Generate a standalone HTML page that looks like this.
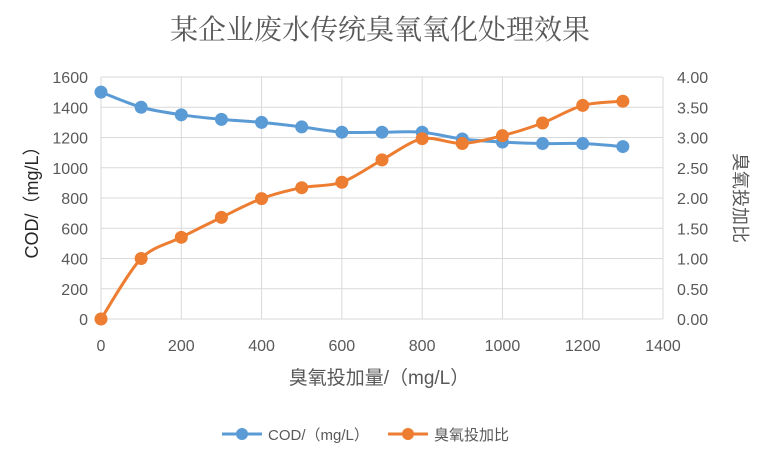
<!DOCTYPE html>
<html><head><meta charset="utf-8"><style>
body{margin:0;background:#fff;width:759px;height:458px;overflow:hidden}
svg text{font-family:"Liberation Sans","Noto Sans CJK SC",sans-serif;fill:#595959}
</style></head><body>
<svg id="s" width="759" height="458" xmlns="http://www.w3.org/2000/svg">
<text x="380" y="39" text-anchor="middle" font-size="28" style="font-family:'Noto Serif CJK SC','Noto Sans CJK SC',serif">某企业废水传统臭氧氧化处理效果</text>
<g id="grid" stroke="#d9d9d9" stroke-width="1"></g>
<g id="lab" font-size="16"></g>
<text transform="translate(38,198) rotate(-90)" text-anchor="middle" font-size="18" style="fill:#262626">COD/（mg/L）</text>
<text transform="translate(734,198) rotate(90)" text-anchor="middle" font-size="18">臭氧投加比</text>
<text x="379" y="384" text-anchor="middle" font-size="19">臭氧投加量/（mg/L）</text>
<g id="ser"></g>
<line x1="222" y1="434" x2="262" y2="434" stroke="#5b9bd5" stroke-width="3"/><circle cx="242" cy="434" r="6" fill="#5b9bd5"/>
<text x="268" y="440" font-size="15">COD/（mg/L）</text>
<line x1="388" y1="434" x2="428" y2="434" stroke="#ed7d31" stroke-width="3"/><circle cx="408" cy="434" r="6" fill="#ed7d31"/>
<text x="434" y="440" font-size="15">臭氧投加比</text>
</svg>
<script>
const NS="http://www.w3.org/2000/svg";
function el(p,t,a,txt){const e=document.createElementNS(NS,t);for(const k in a)e.setAttribute(k,a[k]);if(txt!=null)e.textContent=txt;document.getElementById(p).appendChild(e);return e;}
const X=v=>101+v*562/1400, Y=v=>319-v*242/1600, Y2=v=>319-v*60.5;
for(let i=0;i<=8;i++){const y=Y(i*200);el('grid','line',{x1:101,x2:663,y1:y,y2:y});
el('lab','text',{x:88,y:y+6,'text-anchor':'end'},String(i*200));
el('lab','text',{x:677,y:y+6},(i*0.5).toFixed(2));}
for(let i=0;i<=7;i++){const x=X(i*200);el('grid','line',{x1:x,x2:x,y1:77,y2:319});
el('lab','text',{x:x,y:351,'text-anchor':'middle'},String(i*200));}
const xs=[0,100,200,300,400,500,600,700,800,900,1000,1100,1200,1300];
const cod=[1500,1400,1350,1320,1300,1270,1235,1235,1235,1190,1170,1160,1160,1140];
const r=[0,1.0,1.35,1.68,1.99,2.17,2.26,2.63,2.98,2.9,3.03,3.24,3.53,3.6];
function path(pts){let d=`M${pts[0][0]},${pts[0][1]}`;const t=0.15;
for(let i=0;i<pts.length-1;i++){const p0=pts[Math.max(i-1,0)],p1=pts[i],p2=pts[i+1],p3=pts[Math.min(i+2,pts.length-1)];
d+=` C${p1[0]+(p2[0]-p0[0])*t},${p1[1]+(p2[1]-p0[1])*t} ${p2[0]-(p3[0]-p1[0])*t},${p2[1]-(p3[1]-p1[1])*t} ${p2[0]},${p2[1]}`;}return d;}
function series(pts,c){el('ser','path',{d:path(pts),fill:'none',stroke:c,'stroke-width':3});
pts.forEach(p=>el('ser','circle',{cx:p[0],cy:p[1],r:6.5,fill:c}));}
series(xs.map((x,i)=>[X(x),Y(cod[i])]),'#5b9bd5');
series(xs.map((x,i)=>[X(x),Y2(r[i])]),'#ed7d31');
</script>
</body></html>
